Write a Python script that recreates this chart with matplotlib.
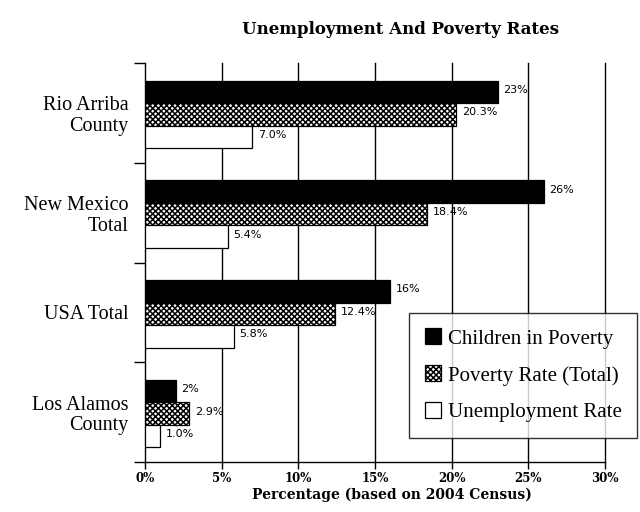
import numpy as np
import matplotlib
matplotlib.use("Agg")
from matplotlib import pyplot as plt

# data
places = ["Rio Arriba\nCounty", "New Mexico\nTotal", "USA Total", "Los Alamos\nCounty"]
series = ["Children in Poverty", "Poverty Rate (Total)", "Unemployment Rate"]
children = [23, 26, 16, 2]
poverty = [20.3, 18.4, 12.4, 2.9]
unemployment = [7.0, 5.4, 5.8, 1.0]
labels_children = ["23%", "26%", "16%", "2%"]
labels_poverty = ["20.3%", "18.4%", "12.4%", "2.9%"]
labels_unemp = ["7.0%", "5.4%", "5.8%", "1.0%"]
xticks = [0, 5, 10, 15, 20, 25, 30]

plt.rcParams['hatch.linewidth'] = 1.1

fig = plt.figure(figsize=(6.4, 5.12), dpi=100)
ax = fig.add_axes([145/640, 1 - 462/512, 460/640, 399/512])

idx = np.arange(len(places))
barh = 0.225
styles = [dict(color="black", edgecolor="black"),
          dict(facecolor="white", edgecolor="black", hatch="xxxxxx"),
          dict(facecolor="white", edgecolor="black")]
allvals = [children, poverty, unemployment]
alllabels = [labels_children, labels_poverty, labels_unemp]

for j in range(3):
    ypos = idx + 0.29 + j * barh
    ax.barh(ypos, allvals[j], height=barh, linewidth=0.9, label=series[j], zorder=3, **styles[j])
    for yy, v, t in zip(ypos, allvals[j], alllabels[j]):
        ax.text(v + 0.35, yy - 0.02, t, fontsize=8, family="DejaVu Sans", va="center", ha="left", zorder=4)

ax.set_xlim(0, 30)
ax.set_ylim(4, 0)
ax.set_xticks(xticks)
ax.set_xticklabels([str(x) + "%" for x in xticks], family="DejaVu Serif", fontweight="bold", fontsize=8.5)
ax.set_yticks(np.arange(5))
ax.set_yticklabels([])
ax.set_yticks(idx + 0.5, minor=True)
ax.set_yticklabels(places, minor=True, family="Liberation Serif", fontsize=14.5, linespacing=1.1)
ax.tick_params(axis="y", which="minor", length=0, pad=12)
ax.tick_params(axis="y", which="major", length=8, width=1, direction="out")
ax.tick_params(axis="x", length=5, width=1, direction="out", pad=2)
for x in xticks[1:]:
    ax.axvline(x, color="black", linewidth=1, zorder=0, clip_on=False)

for side in ["top", "right"]:
    ax.spines[side].set_visible(False)
ax.spines["left"].set_linewidth(1)
ax.spines["bottom"].set_linewidth(1)

ax.set_xlabel("Percentage (based on 2004 Census)", family="DejaVu Serif", fontweight="bold", fontsize=10)
ax.xaxis.set_label_coords(0.537, -0.065)
fig.text(400/640, 1 - 30/512, "Unemployment And Poverty Rates", family="DejaVu Serif", fontweight="bold",
         fontsize=12, ha="center", va="center")

leg = ax.legend(loc="lower right", bbox_to_anchor=(1.07, 0.06), frameon=True, fancybox=False,
                prop={"family": "Liberation Serif", "size": 15}, handlelength=0.8, handleheight=0.8,
                handletextpad=0.3, labelspacing=0.8, borderpad=0.75, borderaxespad=0)
leg.get_frame().set_edgecolor("black")
leg.get_frame().set_linewidth(1)
leg.set_zorder(5)

fig.savefig("out.png", dpi=100)
